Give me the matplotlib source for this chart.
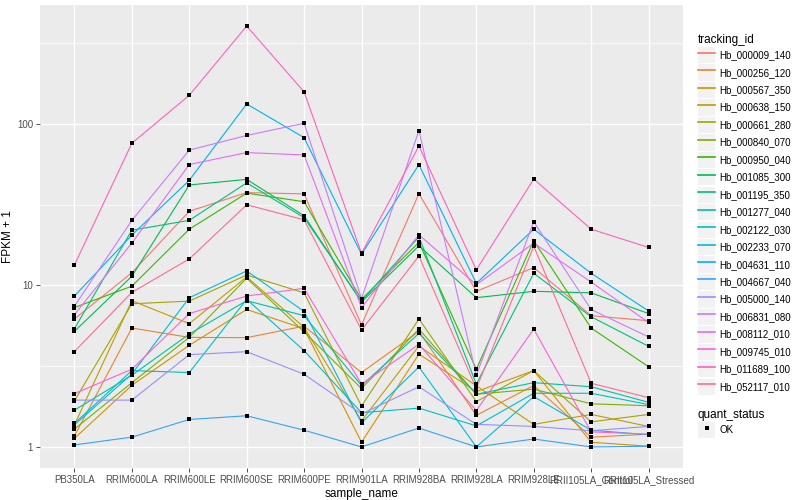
import numpy as np
import matplotlib
matplotlib.use('Agg')
import matplotlib.pyplot as plt
from matplotlib.lines import Line2D
from matplotlib.patches import Rectangle
from matplotlib.legend_handler import HandlerLine2D
from matplotlib.ticker import FixedLocator, NullFormatter

plt.rcParams['font.family'] = ['Liberation Sans', 'DejaVu Sans']

samples = ['PB350LA', 'RRIM600LA', 'RRIM600LE', 'RRIM600SE', 'RRIM600PE',
           'RRIM901LA', 'RRIM928BA', 'RRIM928LA', 'RRIM928LE',
           'RRII105LA_Control', 'RRII105LA_Stressed']

tracking_ids = ['Hb_000009_140', 'Hb_000256_120', 'Hb_000567_350', 'Hb_000638_150',
                'Hb_000661_280', 'Hb_000840_070', 'Hb_000950_040', 'Hb_001085_300',
                'Hb_001195_350', 'Hb_001277_040', 'Hb_002122_030', 'Hb_002233_070',
                'Hb_004631_110', 'Hb_004667_040', 'Hb_005000_140', 'Hb_006831_080',
                'Hb_008112_010', 'Hb_009745_010', 'Hb_011689_100', 'Hb_052117_010']

# ggplot default hue palette, 20 levels
hue_colors = ['#F8766D', '#EA8331', '#D89000', '#C09B00', '#A3A500', '#7CAE00',
              '#39B600', '#00BB4E', '#00BF7D', '#00C1A3', '#00BFC4', '#00BAE0',
              '#00B0F6', '#35A2FF', '#9590FF', '#C77CFF', '#E76BF3', '#FA62DB',
              '#FF62BC', '#FF6C91']

# FPKM + 1 per sample (order of samples above)
hb_000009_140 = [6.2, 12.0, 28.8, 37.6, 36.9, 5.7, 37.0, 9.2, 12.9, 6.5, 6.05]
hb_000256_120 = [1.17, 5.45, 4.77, 4.75, 5.6, 2.89, 5.2, 1.57, 2.4, 1.15, 1.2]
hb_000567_350 = [1.13, 2.41, 4.26, 7.1, 5.4, 1.07, 3.76, 2.2, 2.97, 1.07, 1.01]
hb_000638_150 = [1.37, 8.05, 5.8, 11.3, 5.5, 1.45, 4.22, 2.39, 1.38, 1.59, 1.34]
hb_000661_280 = [1.93, 7.7, 8.0, 11.6, 9.0, 1.79, 6.2, 1.91, 2.97, 1.43, 1.59]
hb_000840_070 = [1.29, 2.5, 4.77, 11.1, 5.16, 2.3, 5.37, 2.12, 2.28, 1.85, 1.8]
hb_000950_040 = [7.3, 9.9, 22.3, 37.3, 33.0, 8.2, 18.5, 3.03, 18.9, 5.45, 3.14]
hb_001085_300 = [5.2, 11.4, 41.9, 45.4, 27.0, 7.9, 17.6, 8.4, 9.2, 9.0, 6.7]
hb_001195_350 = [5.4, 22.0, 25.3, 43.2, 26.3, 8.0, 20.0, 2.45, 11.9, 6.4, 4.2]
hb_001277_040 = [1.69, 2.78, 5.0, 8.05, 6.5, 2.4, 5.05, 2.12, 2.5, 2.36, 1.89]
hb_002122_030 = [1.40, 2.97, 2.89, 8.2, 3.95, 1.63, 1.74, 1.35, 2.15, 2.15, 1.83]
hb_002233_070 = [1.37, 2.83, 8.4, 12.3, 6.9, 1.41, 3.13, 1.0, 2.05, 1.27, 1.19]
hb_004631_110 = [8.6, 20.5, 44.8, 133.0, 82.3, 15.6, 56.0, 10.3, 22.3, 11.9, 6.95]
hb_004667_040 = [1.03, 1.15, 1.48, 1.56, 1.27, 1.0, 1.31, 1.0, 1.12, 1.0, 1.01]
hb_005000_140 = [1.95, 1.95, 3.73, 3.89, 2.82, 1.6, 2.36, 1.38, 1.34, 1.26, 1.34]
hb_006831_080 = [7.45, 25.3, 68.9, 84.9, 101.0, 8.3, 91.0, 2.78, 24.8, 7.1, 4.8]
hb_008112_010 = [6.6, 18.3, 56.1, 66.5, 64.3, 7.3, 20.6, 10.1, 18.3, 10.5, 5.9]
hb_009745_010 = [2.14, 3.03, 6.7, 8.6, 9.6, 2.45, 4.32, 1.68, 5.37, 1.24, 1.2]
hb_011689_100 = [13.4, 76.0, 150.6, 404.0, 158.0, 15.8, 73.0, 12.5, 45.6, 22.3, 17.2]
hb_052117_010 = [3.9, 9.06, 14.6, 31.6, 25.5, 5.3, 15.2, 2.3, 17.5, 2.48, 2.02]

series = [hb_000009_140, hb_000256_120, hb_000567_350, hb_000638_150, hb_000661_280,
          hb_000840_070, hb_000950_040, hb_001085_300, hb_001195_350, hb_001277_040,
          hb_002122_030, hb_002233_070, hb_004631_110, hb_004667_040, hb_005000_140,
          hb_006831_080, hb_008112_010, hb_009745_010, hb_011689_100, hb_052117_010]


class KeyHandler(HandlerLine2D):
    # grey key background like ggplot legends
    def create_artists(self, legend, orig_handle, xdescent, ydescent,
                       width, height, fontsize, trans):
        bg = Rectangle((-xdescent, -ydescent), width, height,
                       facecolor='#F2F2F2', edgecolor='none', transform=trans)
        arts = super().create_artists(legend, orig_handle, xdescent, ydescent,
                                      width, height, fontsize, trans)
        return [bg] + list(arts)


fig = plt.figure(figsize=(8, 5), dpi=100)
ax = fig.add_axes([40 / 800, 32 / 500, 643 / 800, 463 / 500])

x = np.arange(len(samples))
for vals, col in zip(series, hue_colors):
    ax.plot(x, vals, color=col, lw=0.8, zorder=2)
for vals in series:
    ax.plot(x, vals, ls='none', marker='s', ms=3.0, mew=0, color='black', zorder=3)

ax.set_yscale('log')
allv = np.log10(np.concatenate([np.array(s) for s in series]))
pad = 0.05 * (allv.max() - allv.min())
ax.set_ylim(10 ** (allv.min() - pad), 10 ** (allv.max() + pad))
ax.set_xlim(-0.6, len(samples) - 0.4)

ax.set_facecolor('#EBEBEB')
for s in ax.spines.values():
    s.set_visible(False)

ax.set_xticks(x)
ax.set_xticklabels(samples)
ax.set_yticks([1, 10, 100])
ax.set_yticklabels(['1', '10', '100'])
ax.yaxis.set_minor_locator(FixedLocator([10 ** 0.5, 10 ** 1.5, 10 ** 2.5]))
ax.yaxis.set_minor_formatter(NullFormatter())
ax.tick_params(axis='both', which='major', length=3, width=0.6, color='#333333',
               labelcolor='#4D4D4D', labelsize=7, pad=2)
ax.tick_params(axis='y', which='minor', length=0)
ax.grid(True, which='major', color='white', lw=1.0)
ax.grid(True, which='minor', axis='y', color='white', lw=0.5)
ax.set_axisbelow(True)

ax.set_xlabel('sample_name', fontsize=8.5, labelpad=2)
ax.set_ylabel('FPKM + 1', fontsize=8.5, labelpad=2)

handles = [Line2D([], [], color=c, lw=1.2) for c in hue_colors]
leg1 = fig.legend(handles, tracking_ids, loc='upper left',
                  bbox_to_anchor=(693 / 800, 1 - 29 / 500), frameon=False,
                  title='tracking_id', fontsize=7, title_fontsize=8.5,
                  handlelength=1.8, handleheight=2.2, labelspacing=0.12,
                  handletextpad=0.4, borderpad=0, alignment='left',
                  handler_map={Line2D: KeyHandler()})

ok_handle = Line2D([], [], ls='none', marker='s', ms=3.0, mew=0, color='black')
leg2 = fig.legend([ok_handle], ['OK'], loc='upper left',
                  bbox_to_anchor=(693 / 800, 1 - 404 / 500), frameon=False,
                  title='quant_status', fontsize=7, title_fontsize=8.5,
                  handlelength=1.8, handleheight=2.2, labelspacing=0.12,
                  handletextpad=0.4, borderpad=0, alignment='left',
                  handler_map={Line2D: KeyHandler()})

fig.savefig('out.png', dpi=100)
